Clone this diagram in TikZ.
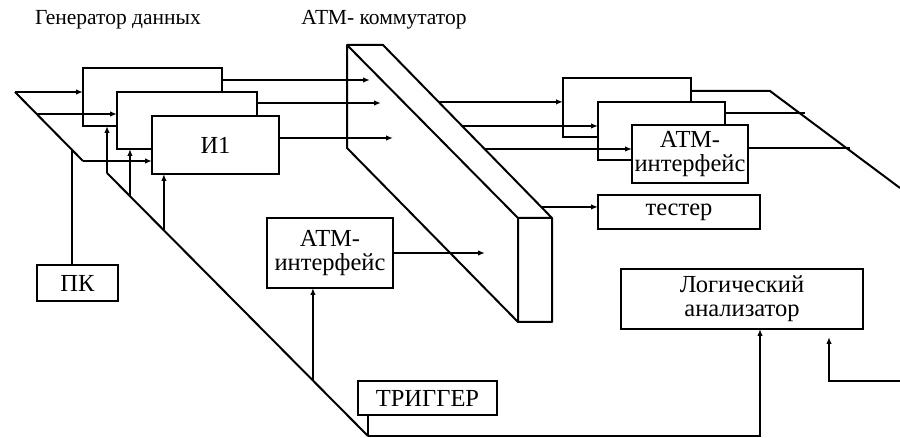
\documentclass[tikz,border=0pt]{standalone}
\usepackage{fontspec}
\setmainfont{Liberation Serif}
\usetikzlibrary{arrows.meta,calc}

\begin{document}
\begin{tikzpicture}[x=1pt, y=-1pt, >={Latex[length=7pt,width=5.5pt]},
 font=\fontsize{24.5}{24}\selectfont, line width=2pt,
 box/.style 2 args={draw, fill=white, align=center, inner sep=0pt, outer sep=0pt, minimum width=#1, minimum height=#2},
 title/.style={font=\fontsize{21.5}{22}\selectfont},
 line/.style={->, line width=1.7pt},
 bus/.style={line width=2pt}]
\useasboundingbox (0,0) rectangle (900,438);
\node[title] (gen) at (118,20) {Генератор данных};
\node[title] (swt) at (384,20) {АТМ- коммутатор};
% switch slab
\coordinate (s1) at (347,45); \coordinate (s2) at (383,45); \coordinate (s3) at (552,218);
\coordinate (s4) at (518,218); \coordinate (s5) at (518,322); \coordinate (s6) at (552,322);
\coordinate (s7) at (347,148);
\draw[bus, line join=round] (s1) -- (s2) -- (s3) -- (s6) -- (s5) -- (s7) -- cycle (s1) -- (s4) -- (s5) (s4) -- (s3);
% data generator
\node[box={139}{58}] (g1) at (152.5,97) {};
\node[box={140}{57}] (g2) at (187,120.5) {};
\node[box={127}{58}] (g3) at (215.5,145) {И1};
% receivers
\node[box={128}{59}] (r1) at (627,107.5) {};
\node[box={127}{58}] (r2) at (661.5,131) {};
\node[box={116}{58}] (r3) at (690,154) {АТМ-\\интерфейс};
\node[box={162}{34}] (tst) at (679,212) {тестер};
\node[box={126}{70}] (ai) at (330,253) {АТМ-\\интерфейс};
\node[box={81}{36}] (pk) at (77.5,283) {ПК};
\node[box={139}{34}] (trg) at (427.5,398) {ТРИГГЕР};
\node[box={242}{60}] (la) at (742,299) {Логический\\анализатор};
% PC bus
\coordinate (pa) at (15,92); \coordinate (pb) at (83,161); \coordinate (pm) at (37,114);
\coordinate (pc) at (72,149);
\draw[bus] (pa) -- (pb); \draw[bus] (pc) -- (pc |- pk.north);
\draw[line] (pa) -- (pa -| g1.west);
\draw[line] (pm) -- (pm -| g2.west);
\draw[line] (pb) -- (pb -| g3.west);
% trigger bus
\coordinate (ta) at (107,173); \coordinate (tb) at (368,436);
\draw[bus] (ta) -- (tb); \draw[bus] (tb |- trg.south) -- (tb);
\draw[line] (tb) -| ([xshift=18pt]la.south);
\coordinate (t2) at ($(ta)!0.088!(tb)$); \coordinate (t3) at ($(ta)!0.218!(tb)$);
\coordinate (t4) at ($(ta)!0.789!(tb)$);
\draw[line] (ta) -- (ta |- g1.south); \draw[line] (t2) -- (t2 |- g2.south);
\draw[line] (t3) -- (t3 |- g3.south); \draw[line] (t4) -- (t4 |- ai.south);
% into switch
\coordinate (i1) at (370,80); \coordinate (i2) at (381,103); \coordinate (i3) at (393,138);
\coordinate (i4) at (485,253);
\draw[line] (g1.east |- i1) -- (i1); \draw[line] (g2.east |- i2) -- (i2);
\draw[line] (g3.east |- i3) -- (i3); \draw[line] (ai.east |- i4) -- (i4);
% out of switch
\coordinate (o1) at ($(s2)!0.329!(s3)$); \coordinate (o2) at ($(s2)!0.468!(s3)$);
\coordinate (o3) at ($(s2)!0.601!(s3)$); \coordinate (o4) at ($(s2)!0.936!(s3)$);
\draw[line] (o1) -- (o1 -| r1.west); \draw[line] (o2) -- (o2 -| r2.west);
\draw[line] (o3) -- (o3 -| r3.west); \draw[line] (o4) -- (o4 -| tst.west);
% receiver outputs
\coordinate (ra) at (770,91); \coordinate (rb) at (900,188);
\coordinate (q2) at (805,113); \coordinate (q3) at (850,148);
\draw[bus] (r1.east |- ra) -- (ra) -- (rb);
\draw[bus] (r2.east |- q2) -- (q2); \draw[bus] (r3.east |- q3) -- (q3);
% analyser input
\coordinate (rin) at (900,381); \coordinate (lin) at (829,337);
\draw[line] (rin) -| (lin);
\end{tikzpicture}
\end{document}
